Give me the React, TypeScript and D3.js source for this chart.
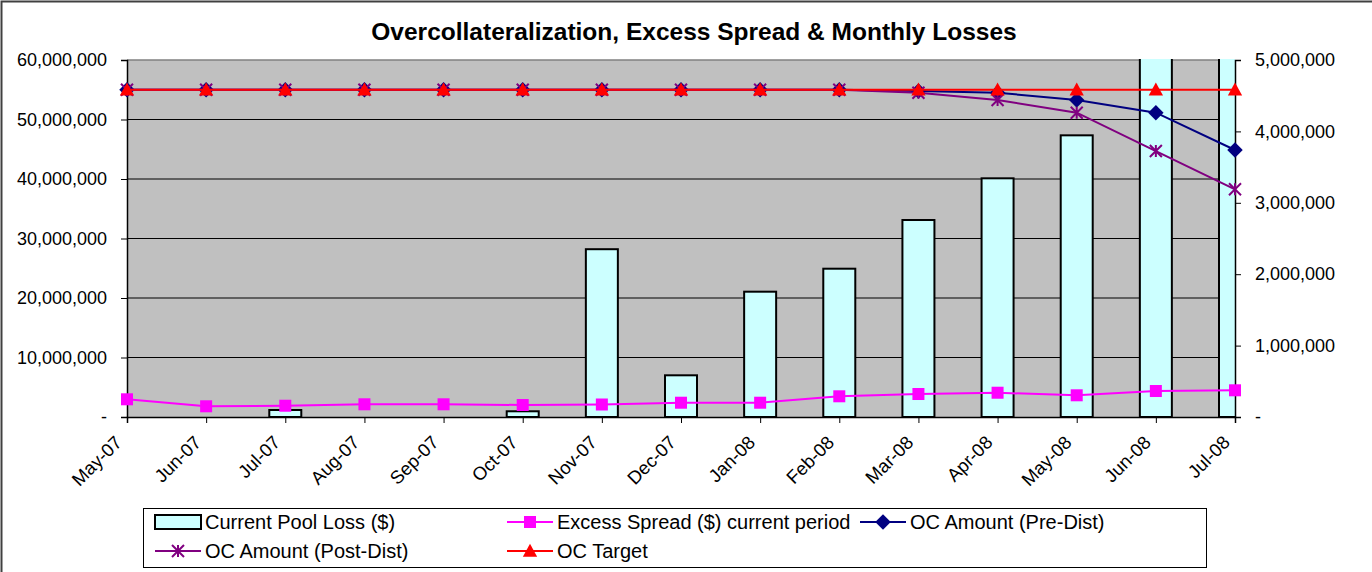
import React, { useRef, useEffect } from 'react';
import * as d3 from 'd3';

const months = ['May-07', 'Jun-07', 'Jul-07', 'Aug-07', 'Sep-07', 'Oct-07', 'Nov-07', 'Dec-07',
  'Jan-08', 'Feb-08', 'Mar-08', 'Apr-08', 'May-08', 'Jun-08', 'Jul-08'];

// right axis
const poolLoss = [0, 0, 98000, 0, 0, 80000, 2350000, 584000, 1755000, 2077000, 2759000, 3343000,
  3945000, 5600000, 5700000];
const excessSpread = [248000, 150000, 158000, 178000, 178000, 168000, 175000, 200000, 200000,
  290000, 322000, 340000, 304000, 364000, 374000];

// left axis
const ocPre = [55000000, 55000000, 55000000, 55000000, 55000000, 55000000, 55000000, 55000000,
  55000000, 55000000, 54790000, 54500000, 53280000, 51140000, 44870000];
const ocPost = [55000000, 55000000, 55000000, 55000000, 55000000, 55000000, 55000000, 55000000,
  55000000, 55000000, 54500000, 53280000, 51140000, 44700000, 38270000];
const ocTarget = [55000000, 55000000, 55000000, 55000000, 55000000, 55000000, 55000000, 55000000,
  55000000, 55000000, 55000000, 55000000, 55000000, 55000000, 55000000];

const leftTicks = [0, 10000000, 20000000, 30000000, 40000000, 50000000, 60000000];
const rightTicks = [0, 1000000, 2000000, 3000000, 4000000, 5000000];

const FONT = "'Liberation Sans', Arial, sans-serif";

const App = () => {
  const svgRef = useRef<SVGSVGElement>(null);

  useEffect(() => {
    const svg = d3.select(svgRef.current);
    svg.selectAll('*').remove();

    const W = 1372, H = 572;
    const plot = { left: 127, right: 1235, top: 60, bottom: 417 };

    const x = d3.scalePoint<string>().domain(months).range([plot.left, plot.right]);
    const yLeft = d3.scaleLinear().domain([0, 60000000]).range([plot.bottom, plot.top]);
    const yRight = d3.scaleLinear().domain([0, 5000000]).range([plot.bottom, plot.top]);
    const fmt = (v: number) => (v === 0 ? '-' : d3.format(',')(v));

    // outer chart frame (cut off at right / bottom in the original)
    svg.append('rect')
      .attr('x', 1.5).attr('y', 1.5).attr('width', W + 10).attr('height', H + 10)
      .attr('fill', '#fff').attr('stroke', '#404040').attr('stroke-width', 2);

    svg.append('text')
      .attr('x', 694).attr('y', 40)
      .attr('text-anchor', 'middle')
      .attr('font-family', FONT).attr('font-weight', 'bold').attr('font-size', 24.5)
      .text('Overcollateralization, Excess Spread & Monthly Losses');

    // plot background
    svg.append('rect')
      .attr('x', plot.left).attr('y', plot.top)
      .attr('width', plot.right - plot.left).attr('height', plot.bottom - plot.top)
      .attr('fill', '#c0c0c0');

    // gridlines from left axis
    svg.append('g').selectAll('line')
      .data(leftTicks.filter(d => d > 0 && d < 60000000))
      .enter().append('line')
      .attr('x1', plot.left).attr('x2', plot.right)
      .attr('y1', d => yLeft(d)).attr('y2', d => yLeft(d))
      .attr('stroke', '#000').attr('stroke-width', 1);

    svg.append('line')
      .attr('x1', plot.left).attr('x2', plot.right)
      .attr('y1', plot.top).attr('y2', plot.top)
      .attr('stroke', '#808080').attr('stroke-width', 1.5);

    // bars, clipped to the plot area
    svg.append('clipPath').attr('id', 'plotClip')
      .append('rect')
      .attr('x', plot.left).attr('y', plot.top - 1)
      .attr('width', plot.right - plot.left).attr('height', plot.bottom - plot.top + 1);

    const barW = 32;
    svg.append('g').attr('clip-path', 'url(#plotClip)')
      .selectAll('rect')
      .data(months.map((m, i) => ({ m, v: poolLoss[i] })).filter(d => d.v > 0))
      .enter().append('rect')
      .attr('x', d => (x(d.m) as number) - barW / 2)
      .attr('y', d => yRight(d.v))
      .attr('width', barW)
      .attr('height', d => plot.bottom - yRight(d.v))
      .attr('fill', '#ccffff')
      .attr('stroke', '#000').attr('stroke-width', 2);

    // axes
    const axisStyle = (g: any) => {
      g.selectAll('.domain').attr('stroke', '#000').attr('stroke-width', 1.5);
      g.selectAll('.tick line').attr('stroke', '#000');
      g.selectAll('text').attr('font-family', FONT).attr('font-size', 18).attr('fill', '#000');
    };

    svg.append('g')
      .attr('transform', `translate(${plot.left},0)`)
      .call(d3.axisLeft(yLeft).tickValues(leftTicks).tickFormat(fmt as any).tickSizeOuter(0).tickSize(6).tickPadding(14))
      .call(axisStyle);

    svg.append('g')
      .attr('transform', `translate(${plot.right},0)`)
      .call(d3.axisRight(yRight).tickValues(rightTicks).tickFormat(fmt as any).tickSizeOuter(0).tickSize(6).tickPadding(14))
      .call(axisStyle);

    const xAxis = svg.append('g')
      .attr('transform', `translate(0,${plot.bottom})`)
      .call(d3.axisBottom(x).tickSizeOuter(0).tickSize(6))
      .call(axisStyle);
    xAxis.selectAll('text')
      .attr('text-anchor', 'end')
      .attr('dy', null)
      .attr('y', 0)
      .attr('font-size', 18.5)
      .attr('dominant-baseline', 'central')
      .attr('transform', 'translate(-9,22) rotate(-45)');

    // markers
    const drawMarker = (g: any, type: string, color: string, size: number) => {
      if (type === 'square') {
        g.append('rect').attr('x', -size / 2).attr('y', -size / 2).attr('width', size).attr('height', size)
          .attr('fill', color);
      } else if (type === 'diamond') {
        g.append('path').attr('d', d3.symbol(d3.symbolDiamond2, size * size * 0.9)()).attr('fill', color);
      } else if (type === 'triangle') {
        const h = size;
        g.append('path').attr('d', `M0,${-h * 0.55}L${size * 0.55},${h * 0.45}L${-size * 0.55},${h * 0.45}Z`).attr('fill', color);
      } else if (type === 'star') {
        const r = size / 2;
        g.append('path')
          .attr('d', `M${-r},${-r}L${r},${r}M${-r},${r}L${r},${-r}M0,${-r}L0,${r}`)
          .attr('stroke', color).attr('stroke-width', 2).attr('fill', 'none');
      }
    };

    const series = [
      { name: 'Excess Spread ($) current period', values: excessSpread, y: yRight, color: '#ff00ff', marker: 'square', size: 12 },
      { name: 'OC Amount (Pre-Dist)', values: ocPre, y: yLeft, color: '#000080', marker: 'diamond', size: 13 },
      { name: 'OC Amount (Post-Dist)', values: ocPost, y: yLeft, color: '#800080', marker: 'star', size: 12 },
      { name: 'OC Target', values: ocTarget, y: yLeft, color: '#ff0000', marker: 'triangle', size: 13 },
    ];

    series.forEach(s => {
      const line = d3.line<number>()
        .x((_, i) => x(months[i]) as number)
        .y(d => s.y(d));
      svg.append('path')
        .datum(s.values)
        .attr('fill', 'none')
        .attr('stroke', s.color)
        .attr('stroke-width', 2)
        .attr('d', line);
      s.values.forEach((v, i) => {
        const g = svg.append('g').attr('transform', `translate(${x(months[i])},${s.y(v)})`);
        drawMarker(g, s.marker, s.color, s.size);
      });
    });

    // legend
    const legend = svg.append('g');
    legend.append('rect')
      .attr('x', 143.5).attr('y', 508.5).attr('width', 1063).attr('height', 59)
      .attr('fill', '#fff').attr('stroke', '#000').attr('stroke-width', 1);

    const items = [
      { name: 'Current Pool Loss ($)', x: 155, y: 522, kind: 'bar' },
      { ...series[0], x: 507, y: 522, kind: 'line' },
      { ...series[1], x: 860, y: 522, kind: 'line' },
      { ...series[2], x: 155, y: 551, kind: 'line' },
      { ...series[3], x: 507, y: 551, kind: 'line' },
    ];

    items.forEach((it: any) => {
      const g = legend.append('g').attr('transform', `translate(${it.x},${it.y})`);
      if (it.kind === 'bar') {
        g.append('rect').attr('x', 0).attr('y', -7).attr('width', 46).attr('height', 14)
          .attr('fill', '#ccffff').attr('stroke', '#000').attr('stroke-width', 2);
      } else {
        g.append('line').attr('x1', 0).attr('x2', 46).attr('y1', 0).attr('y2', 0)
          .attr('stroke', it.color).attr('stroke-width', 2);
        const mg = g.append('g').attr('transform', 'translate(23,0)');
        drawMarker(mg, it.marker, it.color, it.size);
      }
      g.append('text')
        .attr('x', 50).attr('y', 0)
        .attr('dominant-baseline', 'central')
        .attr('font-family', FONT).attr('font-size', 20)
        .text(it.name);
    });
  }, []);

  return (
    <div style={{ position: 'absolute', left: 0, top: 0 }}>
      <svg ref={svgRef} width={1372} height={572} style={{ display: 'block' }} />
    </div>
  );
};

export default App;
